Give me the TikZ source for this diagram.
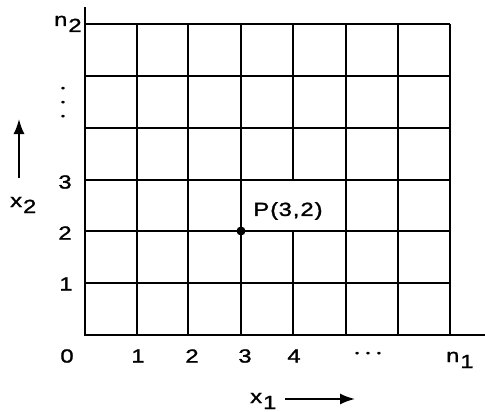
\documentclass[tikz,border=0pt]{standalone}
\usepackage{fontspec}
\setmainfont{Liberation Sans}[FakeStretch=1.25,FakeBold=1.4]
\usetikzlibrary{arrows.meta}
\newcommand{\lowsub}[1]{\kern1pt\raisebox{-6pt}{#1}}
\begin{document}
\begin{tikzpicture}[x=1pt,y=-1pt,
  gridline/.style={line width=1.6pt},
  axisline/.style={line width=2.1pt},
  lbl/.style={inner sep=0pt, font=\fontsize{19}{21}\selectfont},
  dotlbl/.style={inner sep=0pt, font=\fontsize{9}{10}\selectfont},
  arr/.style={line width=1.8pt, -{Latex[length=15pt,width=11pt]}}]
\useasboundingbox (0,0) rectangle (485,412);
% grid
\foreach \x in {137,188,241,346,398,450} \draw[gridline] (\x,24) -- (\x,335);
\draw[gridline] (293,24) -- (293,180);
\draw[gridline] (293,231) -- (293,335);
\foreach \y in {24,76,128,180,231,283} \draw[gridline] (85,\y) -- (450,\y);
\draw[axisline] (85,7) -- (85,335) -- (485,335);
% point
\node[circle, fill, inner sep=0pt, minimum size=9pt] (P) at (241,231) {};
\node[lbl] (Plbl) at (288,211) {P\kern1pt(\kern0.5pt3\kern1pt,\kern1pt2\kern1pt)};
% left labels
\node[lbl, anchor=base west] (n2) at (54,26) {n\lowsub{2}};
\node[dotlbl] (vd1) at (63,89) {•};
\node[dotlbl] (vd2) at (63,103) {•};
\node[dotlbl] (vd3) at (63,117) {•};
\node[lbl] (y3) at (65,182) {3};
\node[lbl] (y2) at (65,233) {2};
\node[lbl] (y1) at (66,284) {1};
% bottom labels
\node[lbl] (x0) at (67,356) {0};
\node[lbl] (x1) at (138,356) {1};
\node[lbl] (x2) at (192,356) {2};
\node[lbl] (x3) at (245,356) {3};
\node[lbl] (x4) at (294,356) {4};
\node[dotlbl] (hdots) at (368,354) {•\kern7pt•\kern7pt•};
\node[lbl, anchor=base west] (n1) at (446,362) {n\lowsub{1}};
% axis names and arrows
\node[lbl, anchor=base west] (xtwo) at (10,207) {x\lowsub{2}};
\node[lbl, anchor=base west] (xone) at (250,403) {x\lowsub{1}};
\coordinate (ua) at (19,178);
\coordinate (ub) at (19,119);
\draw[arr] (ua) -- (ub);
\coordinate (ra) at (285,399);
\coordinate (rb) at (355,399);
\draw[arr] (ra) -- (rb);
\end{tikzpicture}
\end{document}
